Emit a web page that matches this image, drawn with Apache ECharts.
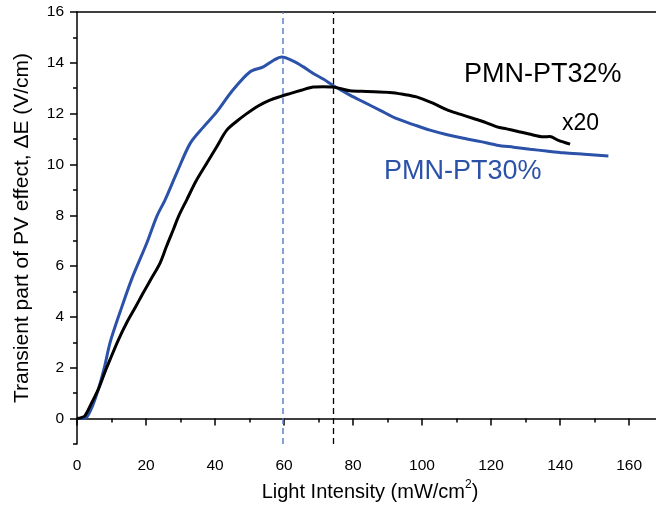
<!DOCTYPE html>
<html>
<head>
<meta charset="utf-8">
<script src="https://cdn.jsdelivr.net/npm/echarts@6/dist/echarts.min.js"></script>
<style>
  html, body { margin: 0; padding: 0; background: #fff; }
  #chart { width: 656px; height: 510px; }
</style>
</head>
<body>
<div id="chart"></div>
<script>
// PMN-PT30% (blue) - light intensity (mW/cm2) vs transient dE (V/cm)
var pt30X = [0, 1.5, 2.8, 4.5, 6.2, 8, 9.6, 12.5, 15.8, 20.2, 23.1, 25.5, 29, 32.8, 36.5, 40.5, 45, 50.1, 54, 57, 59.3, 62.7, 65.5, 68.5, 71.5, 74.1, 79.1, 83, 88, 92.7, 97.5, 102.3, 107, 112, 117, 121.7, 126.5, 131.3, 136, 141, 147, 154];
var pt30Y = [0, 0, 0.05, 0.5, 1.16, 2.05, 3.0, 4.2, 5.47, 6.9, 7.95, 8.6, 9.7, 10.83, 11.45, 12.07, 12.9, 13.64, 13.84, 14.1, 14.23, 14.07, 13.85, 13.58, 13.35, 13.12, 12.73, 12.46, 12.12, 11.8, 11.57, 11.35, 11.18, 11.03, 10.9, 10.76, 10.68, 10.6, 10.53, 10.46, 10.4, 10.33];

// PMN-PT32% (black, x20)
var pt32X = [0, 1.2, 2.3, 4, 6.2, 8, 9.6, 12, 14.4, 17, 19.2, 21.5, 24.1, 26, 27.9, 29.4, 31.8, 34.5, 37.6, 40.5, 43.4, 46.3, 49.2, 52.5, 55.9, 58.8, 61.7, 65, 68.5, 71.3, 74.1, 76.5, 79.1, 84, 90.7, 94.5, 98.4, 103, 107.1, 111, 114.9, 118.5, 121.7, 124.5, 127.5, 131, 135.2, 137, 139.5, 142.9];
var pt32Y = [0, 0.04, 0.11, 0.55, 1.16, 1.8, 2.33, 3.1, 3.77, 4.4, 4.95, 5.5, 6.13, 6.8, 7.43, 7.95, 8.61, 9.35, 10.05, 10.7, 11.35, 11.7, 12.0, 12.3, 12.53, 12.67, 12.79, 12.92, 13.05, 13.06, 13.05, 12.98, 12.9, 12.87, 12.83, 12.76, 12.66, 12.42, 12.16, 11.98, 11.81, 11.65, 11.48, 11.4, 11.31, 11.2, 11.09, 11.1, 10.95, 10.8];

// peak positions (dashed guides)
var peak30 = 59.5;
var peak32 = 74.3;

// axis ticks
var xLabelTicks = [0, 20, 40, 60, 80, 100, 120, 140, 160];
var xMinorTicks = [10, 30, 50, 70, 90, 110, 130, 150];
var yLabelTicks = [0, 2, 4, 6, 8, 10, 12, 14, 16];
var yMinorTicks = [-1, 1, 3, 5, 7, 9, 11, 13, 15];

function pairs(xs, ys) {
    var out = [];
    for (var i = 0; i < xs.length; i++) out.push([xs[i], ys[i]]);
    return out;
}

var chart = echarts.init(document.getElementById('chart'));
var FONT = 'Liberation Sans';
var XMAX = 167.8; // plot is cut off at the right edge

var axisBlack = { color: '#000', width: 1.5 };

var option = {
    animation: false,
    backgroundColor: '#fff',
    textStyle: { fontFamily: FONT },
    grid: { left: 77, right: 0, top: 12, bottom: 64 },
    xAxis: [{
        type: 'value',
        min: 0, max: XMAX,
        name: 'Light Intensity (mW/cm{sup|2})',
        nameLocation: 'middle',
        nameGap: 35,
        nameTextStyle: {
            color: '#000', fontSize: 20, fontFamily: FONT, lineHeight: 26,
            padding: [0, 0, 0, 7],
            rich: { sup: { fontSize: 12, lineHeight: 13, verticalAlign: 'top', fontFamily: FONT } }
        },
        axisLine: { lineStyle: axisBlack },
        axisTick: { length: 7, customValues: xLabelTicks, lineStyle: axisBlack },
        axisLabel: { color: '#000', fontSize: 15.5, margin: 14, customValues: xLabelTicks },
        splitLine: { show: false }
    }, {
        type: 'value',
        min: 0, max: XMAX,
        position: 'bottom',
        axisLine: { show: false },
        axisTick: { length: 4, customValues: xMinorTicks, lineStyle: axisBlack },
        axisLabel: { show: false, customValues: xMinorTicks },
        splitLine: { show: false }
    }, {
        type: 'value',
        min: 0, max: XMAX,
        position: 'top',
        axisLine: { lineStyle: axisBlack },
        axisTick: { show: false },
        axisLabel: { show: false },
        splitLine: { show: false }
    }],
    yAxis: [{
        type: 'value',
        min: -1, max: 16,
        name: 'Transient part of PV effect, ΔE (V/cm)',
        nameLocation: 'middle',
        nameGap: 44,
        nameTextStyle: { color: '#000', fontSize: 21, fontFamily: FONT },
        axisLine: { show: true, lineStyle: axisBlack },
        axisTick: { show: true, length: 7, customValues: yLabelTicks, lineStyle: axisBlack },
        axisLabel: { color: '#000', fontSize: 15.5, margin: 13, customValues: yLabelTicks },
        splitLine: { show: false }
    }, {
        type: 'value',
        min: -1, max: 16,
        position: 'left',
        axisLine: { show: false },
        axisTick: { show: true, length: 4, customValues: yMinorTicks, lineStyle: axisBlack },
        axisLabel: { show: false, customValues: yMinorTicks },
        splitLine: { show: false }
    }],
    series: [{
        name: 'PMN-PT32%',
        type: 'line',
        data: pairs(pt32X, pt32Y),
        showSymbol: false,
        smooth: 0.3,
        lineStyle: { color: '#000', width: 3 },
        markLine: {
            silent: true, symbol: 'none',
            label: { show: false },
            lineStyle: { color: '#000', width: 1.3, type: [6, 4] },
            data: [{ xAxis: peak32 }]
        },
        z: 3
    }, {
        name: 'PMN-PT30%',
        type: 'line',
        data: pairs(pt30X, pt30Y),
        showSymbol: false,
        smooth: 0.3,
        lineStyle: { color: '#2b52a8', width: 3 },
        markLine: {
            silent: true, symbol: 'none',
            label: { show: false },
            lineStyle: { color: '#5f82c9', width: 1.5, type: [6, 4] },
            data: [{ xAxis: peak30 }]
        },
        z: 2
    }],
    graphic: [
        { type: 'text', left: 464, top: 61, style: { text: 'PMN-PT32%', fill: '#000', font: '27px "Liberation Sans"' } },
        { type: 'text', left: 562, top: 112, style: { text: 'x20', fill: '#000', font: '23px "Liberation Sans"' } },
        { type: 'text', left: 384, top: 158, style: { text: 'PMN-PT30%', fill: '#2b52a8', font: '27px "Liberation Sans"' } }
    ]
};

chart.setOption(option);
window.onresize = function() { chart.resize(); };
</script>
</body>
</html>
